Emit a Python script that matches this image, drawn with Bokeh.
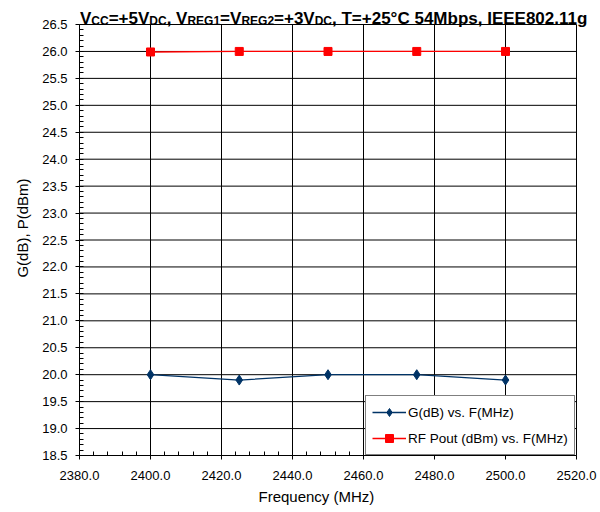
from bokeh.plotting import figure
from bokeh.models import Range1d, Label, Legend, LegendItem, FixedTicker, Title
from bokeh.embed import file_html
from bokeh.resources import INLINE

freq = [2400.0, 2425.0, 2450.0, 2475.0, 2500.0]
gain_db = [20.0, 19.9, 20.0, 20.0, 19.9]
pout_dbm = [25.99, 26.0, 26.0, 26.0, 26.0]
x_ticks = [2380, 2400, 2420, 2440, 2460, 2480, 2500, 2520]
y_ticks = [18.5 + 0.5 * i for i in range(17)]
title_segments = [("V", False), ("CC", True), ("=+5V", False), ("DC", True), (", V", False),
                  ("REG1", True), ("=V", False), ("REG2", True), ("=+3V", False), ("DC", True),
                  (", T=+25°C 54Mbps, IEEE802.11g", False)]
x_label = "Frequency (MHz)"
y_label = "G(dB), P(dBm)"

FONT = "Liberation Sans"

# layout (pixels)
W, H = 600, 512
BOX_L, BOX_R, BOX_T, BOX_B = 79, 576, 24, 455     # visible plot box
FR, FT = 600, 0                                    # frame extends right/up to hold the title
x0, x1 = x_ticks[0], x_ticks[-1]
y0, y1 = y_ticks[0], y_ticks[-1]
xpx = (x1 - x0) / (BOX_R - BOX_L)                  # MHz per pixel
ypx = (y1 - y0) / (BOX_B - BOX_T)                  # dB per pixel

p = figure(width=W, height=H, output_backend="svg", toolbar_location=None,
           x_range=Range1d(x0, x1 + (FR - BOX_R) * xpx),
           y_range=Range1d(y0, y1 + (BOX_T - FT) * ypx),
           min_border_left=BOX_L, min_border_right=W - FR, min_border_top=FT,
           min_border_bottom=H - BOX_B)
p.background_fill_color = "white"
p.border_fill_color = "white"
p.outline_line_color = None

# axes
p.xaxis.ticker = FixedTicker(ticks=x_ticks, minor_ticks=[x0 + 4 * i for i in range(36)])
p.yaxis.ticker = FixedTicker(ticks=y_ticks, minor_ticks=[round(y0 + 0.1 * i, 2) for i in range(81)])
p.xaxis.major_label_overrides = {t: f"{t:.1f}" for t in x_ticks}
p.yaxis.major_label_overrides = {t: f"{t:.1f}" for t in y_ticks}
p.yaxis.bounds = (y0, y1)
p.xaxis.bounds = (x0, x1)
for ax in (p.xaxis, p.yaxis):
    ax.axis_line_color = "black"
    ax.major_tick_line_color = "black"
    ax.minor_tick_line_color = "black"
    ax.major_tick_out = 4
    ax.major_tick_in = 0
    ax.minor_tick_in = 4
    ax.minor_tick_out = 0
    ax.major_label_text_font = FONT
    ax.major_label_text_font_size = "13px"
    ax.major_label_text_color = "black"
    ax.axis_label_text_font = FONT
    ax.axis_label_text_font_size = "15px"
    ax.axis_label_text_font_style = "normal"
    ax.axis_label_text_color = "black"
p.xaxis.major_label_standoff = 11
p.yaxis.major_label_standoff = 8
p.yaxis.axis_label = y_label
p.yaxis.axis_label_standoff = 8

# x-axis title, centred under the plot box (the frame is wider than the box)
p.add_layout(Title(text=x_label, align="left", offset=258 - BOX_L, standoff=7,
                   text_font=FONT, text_font_size="15px", text_font_style="normal",
                   text_color="black"), "below")

# grid drawn only within the plot box
p.xgrid.visible = False
p.ygrid.visible = False
p.segment(x0=x_ticks, y0=[y0] * len(x_ticks), x1=x_ticks, y1=[y1] * len(x_ticks),
          line_color="black", line_width=1)
p.segment(x0=[x0] * len(y_ticks), y0=y_ticks, x1=[x1] * len(y_ticks), y1=y_ticks,
          line_color="black", line_width=1)

navy = "#003366"
red = "#ff0000"
g_line = p.line(freq, gain_db, line_color=navy, line_width=1.3)
g_mark = p.scatter(freq, gain_db, marker="diamond", size=10, fill_color=navy, line_color=navy)
r_line = p.line(freq, pout_dbm, line_color=red, line_width=1.3)
r_mark = p.scatter(freq, pout_dbm, marker="square", size=8, fill_color=red, line_color=red)

legend = Legend(items=[
    LegendItem(label="G(dB) vs. F(MHz)", renderers=[g_line, g_mark]),
    LegendItem(label="RF Pout (dBm) vs. F(MHz)", renderers=[r_line, r_mark]),
], location=(286, 0))
legend.label_text_font = FONT
legend.label_text_font_size = "13.5px"
legend.label_text_color = "black"
legend.border_line_color = "black"
legend.border_line_width = 1
legend.background_fill_color = "white"
legend.background_fill_alpha = 1.0
legend.glyph_width = 34
legend.glyph_height = 20
legend.label_standoff = 2
legend.padding = 6
legend.spacing = 6
legend.margin = 0
p.add_layout(legend, "center")

# Title with subscripts, built from segments (main / subscript), placed inside the frame
widths = {"V": 667, "C": 722, "=": 584, "+": 584, ",": 278, " ": 278, "R": 722, "E": 667,
          "G": 778, "T": 611, "°": 400, "M": 833, "b": 611, "p": 611, "s": 556, "I": 278,
          ".": 278, "g": 611, "D": 722}
main_size, sub_size = 17, 12
xoff = 0.5
for txt, sub in title_segments:
    size = sub_size if sub else main_size
    base_px = 20 if sub else 17.5
    p.add_layout(Label(x=x0 + xoff * xpx, y=y1 + (BOX_T - base_px) * ypx, text=txt,
                       text_font=FONT, text_font_style="bold",
                       text_font_size=f"{size}px", text_color="black",
                       text_baseline="alphabetic", text_align="left"))
    xoff += sum(widths.get(c, 556) for c in txt) * size / 1000.0

open("out.html", "w").write(file_html(p, INLINE))
